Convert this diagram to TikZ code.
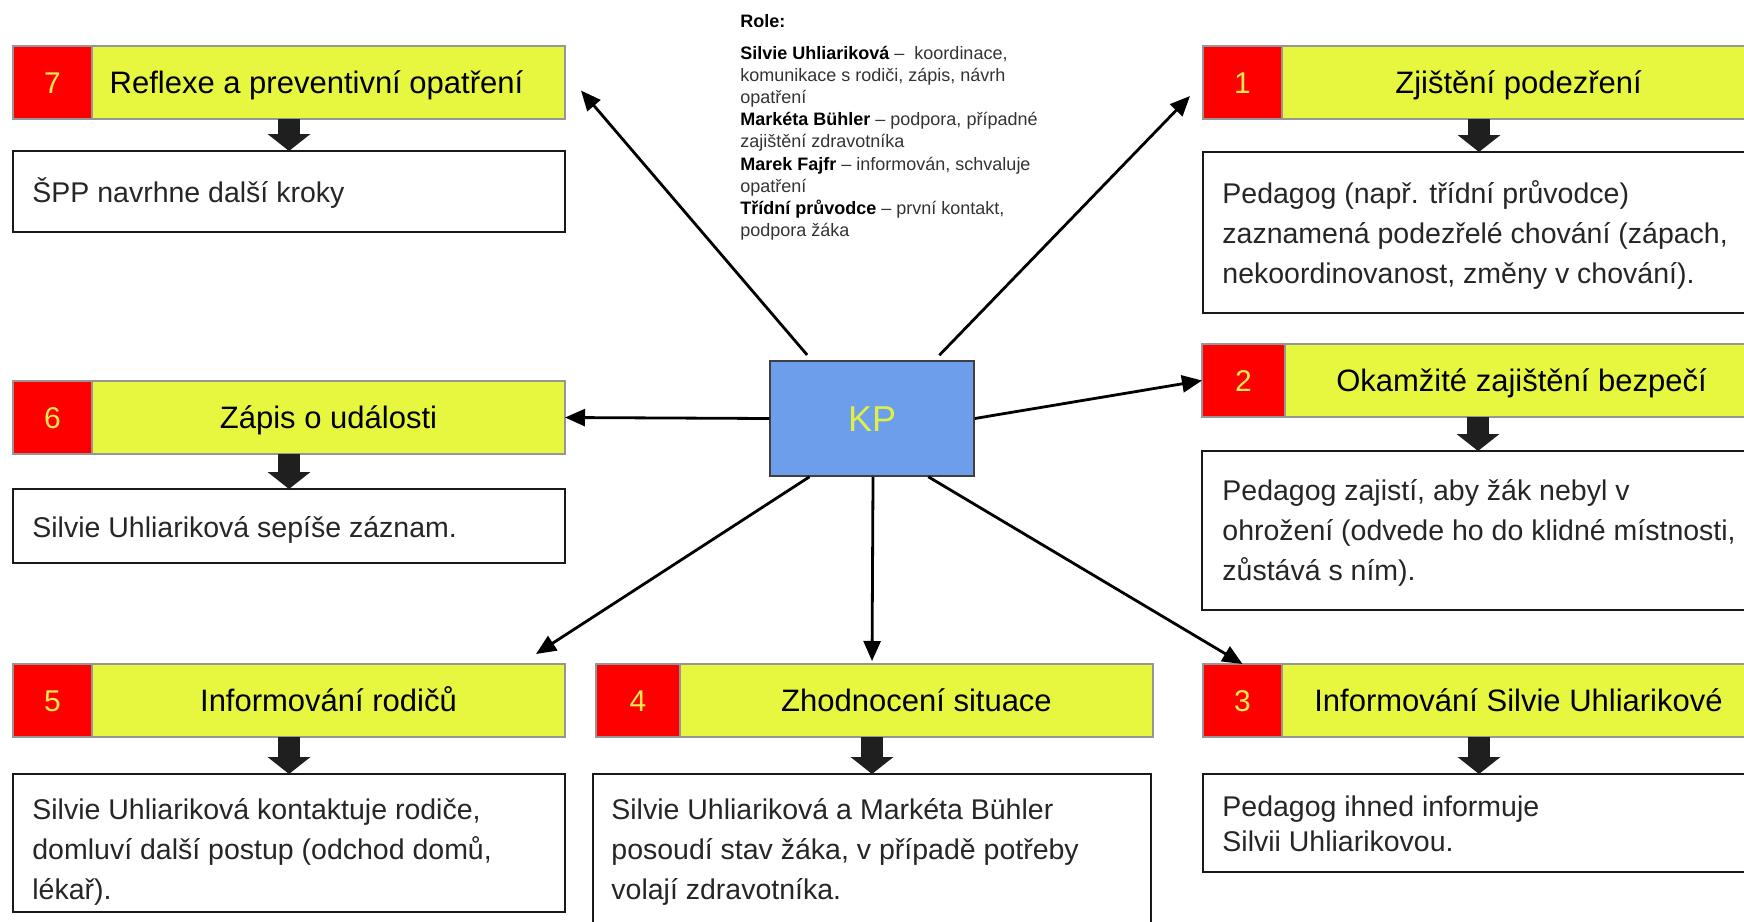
\documentclass[tikz,border=0pt]{standalone}
\usepackage{fontspec}
\setmainfont{Liberation Sans}
\usepackage{tikz}
\usetikzlibrary{positioning,arrows.meta}

\definecolor{numred}{RGB}{255,0,0}
\definecolor{headyellow}{RGB}{231,247,64}
\definecolor{numyellow}{RGB}{250,232,80}
\definecolor{kpblue}{RGB}{109,158,235}
\definecolor{kptext}{RGB}{222,240,70}
\definecolor{headgrey}{RGB}{150,150,150}

\begin{document}
\begin{tikzpicture}[x=0.5pt,y=-0.5pt,
  numbox/.style={draw=headgrey,line width=0.75pt,fill=numred,text=numyellow,minimum width=39.5pt,minimum height=36.5pt,inner sep=0pt,outer sep=0pt,font=\fontsize{15}{18}\selectfont,text height=10.8pt,text depth=0pt},
  headbox/.style={draw=headgrey,line width=0.75pt,fill=headyellow,minimum width=236.5pt,minimum height=36.5pt,inner sep=0pt,outer sep=0pt,font=\fontsize{15.5}{18}\selectfont,text height=11.1pt,text depth=0pt},
  textbox/.style={draw=black!90,line width=1pt,minimum width=276pt,inner sep=0pt,outer sep=0pt},
  bodytext/.style={anchor=north west,inner sep=0pt,align=left,text=black!85,font=\fontsize{14.25}{20}\selectfont},
  rolebox/.style={anchor=north west,inner sep=0pt,align=left,text=black!80,font=\fontsize{9}{11.1}\selectfont},
  kpbox/.style={draw=black!75,line width=0.75pt,fill=kpblue,text=kptext,minimum width=102pt,minimum height=57.5pt,font=\fontsize{18}{21}\selectfont,text height=12.9pt,text depth=0pt},
  blockarr/.style={draw=black!88,line width=11pt,-{Triangle[length=8.5pt,width=21pt]}},
  kparr/.style={line width=1.4pt,-{Triangle[length=10pt,width=8.5pt]}}
]
\clip (0,0) rectangle (1744,921);
\fill[white] (0,0) rectangle (1744,921);

% roles
\node[rolebox,font=\fontsize{9}{11}\selectfont\bfseries,text=black] (rolehead) at (740,11.6) {\strut Role:};
\node[rolebox] (roles) at (740,43.2) {\strut\textbf{\color{black}Silvie Uhliariková} –\ \ koordinace,\\
  komunikace s rodiči, zápis, návrh\\
  opatření\\
  \textbf{\color{black}Markéta Bühler} – podpora, případné\\
  zajištění zdravotníka\\
  \textbf{\color{black}Marek Fajfr} – informován, schvaluje\\
  opatření\\
  \textbf{\color{black}Třídní průvodce} – první kontakt,\\
  podpora žáka};

% center
\node[kpbox] (kp) at (872,418.5) {KP};

% 1
\node[numbox,anchor=north west] (n1) at (1203,46) {1};
\node[headbox,right=0pt of n1] (h1) {Zjištění podezření};
\node[textbox,below=16.5pt of n1.south west,anchor=north west,minimum height=80.5pt] (t1) {};
\node[bodytext] (p1) at (1222,175) {\strut Pedagog (např. třídní průvodce)\\ zaznamená podezřelé chování (zápach,\\ nekoordinovanost, změny v chování).};

% 2
\node[numbox,anchor=north west,minimum width=41.5pt] (n2) at (1202,344) {2};
\node[headbox,right=0pt of n2] (h2) {Okamžité zajištění bezpečí};
\node[textbox,below=17pt of n2.south west,anchor=north west,minimum height=79.5pt] (t2) {};
\node[bodytext] (p2) at (1222,472) {\strut Pedagog zajistí, aby žák nebyl v\\ ohrožení (odvede ho do klidné místnosti,\\ zůstává s ním).};

% 3
\node[numbox,anchor=north west] (n3) at (1203,664) {3};
\node[headbox,right=0pt of n3] (h3) {Informování Silvie Uhliarikové};
\node[textbox,below=18.5pt of n3.south west,anchor=north west,minimum height=49pt] (t3) {};
\node[bodytext,font=\fontsize{14.25}{17.5}\selectfont] (p3) at (1222,792) {\strut Pedagog ihned informuje\\ Silvii Uhliarikovou.};

% 4
\node[numbox,anchor=north west,minimum width=42pt] (n4) at (596,664) {4};
\node[headbox,right=0pt of n4] (h4) {Zhodnocení situace};
\node[textbox,below=18.5pt of n4.south west,anchor=north west,xshift=-1.5pt,minimum width=279pt,minimum height=80.5pt] (t4) {};
\node[bodytext] (p4) at (611,791) {\strut Silvie Uhliariková a Markéta Bühler\\ posoudí stav žáka, v případě potřeby\\ volají zdravotníka.};

% 5
\node[numbox,anchor=north west] (n5) at (13,664) {5};
\node[headbox,right=0pt of n5] (h5) {Informování rodičů};
\node[textbox,below=18.5pt of n5.south west,anchor=north west,minimum height=69pt] (t5) {};
\node[bodytext] (p5) at (32,791) {\strut Silvie Uhliariková kontaktuje rodiče,\\ domluví další postup (odchod domů,\\ lékař).};

% 6
\node[numbox,anchor=north west] (n6) at (13,381) {6};
\node[headbox,right=0pt of n6] (h6) {Zápis o události};
\node[textbox,below=17.5pt of n6.south west,anchor=north west,minimum height=37pt] (t6) {};
\node[bodytext] (p6) at (32,509) {\strut Silvie Uhliariková sepíše záznam.};

% 7
\node[numbox,anchor=north west] (n7) at (13,46) {7};
\node[headbox,right=0pt of n7] (h7) {\hspace*{-12pt}Reflexe a preventivní opatření};
\node[textbox,below=16pt of n7.south west,anchor=north west,minimum height=40.5pt] (t7) {};
\node[bodytext] (p7) at (32,174) {\strut ŠPP navrhne další kroky};

% block arrows
\draw[blockarr] (t1.north |- h1.south) -- (t1.north);
\draw[blockarr] (t2.north |- h2.south) -- (t2.north);
\draw[blockarr] (t3.north |- h3.south) -- (t3.north);
\draw[blockarr] (t4.north |- h4.south) -- (t4.north);
\draw[blockarr] (t5.north |- h5.south) -- (t5.north);
\draw[blockarr] (t6.north |- h6.south) -- (t6.north);
\draw[blockarr] (t7.north |- h7.south) -- (t7.north);

% from KP
\draw[kparr,shorten <=3.5pt] (kp.136) -- ([xshift=8pt,yshift=-4pt]h7.east);
\draw[kparr,shorten <=3.5pt] (kp.43) -- ([xshift=-6.5pt,yshift=-6.75pt]n1.west);
\draw[kparr] (kp.west) -- (h6.east);
\draw[kparr] (kp.east) -- (n2.west);
\draw[kparr] (kp.223) -- ([xshift=-14.5pt,yshift=5pt]h5.north east);
\draw[kparr,shorten >=1.5pt] (kp.271) -- (t4.north |- h4.north);
\draw[kparr] (kp.314) -- (n3.north);
\end{tikzpicture}
\end{document}
